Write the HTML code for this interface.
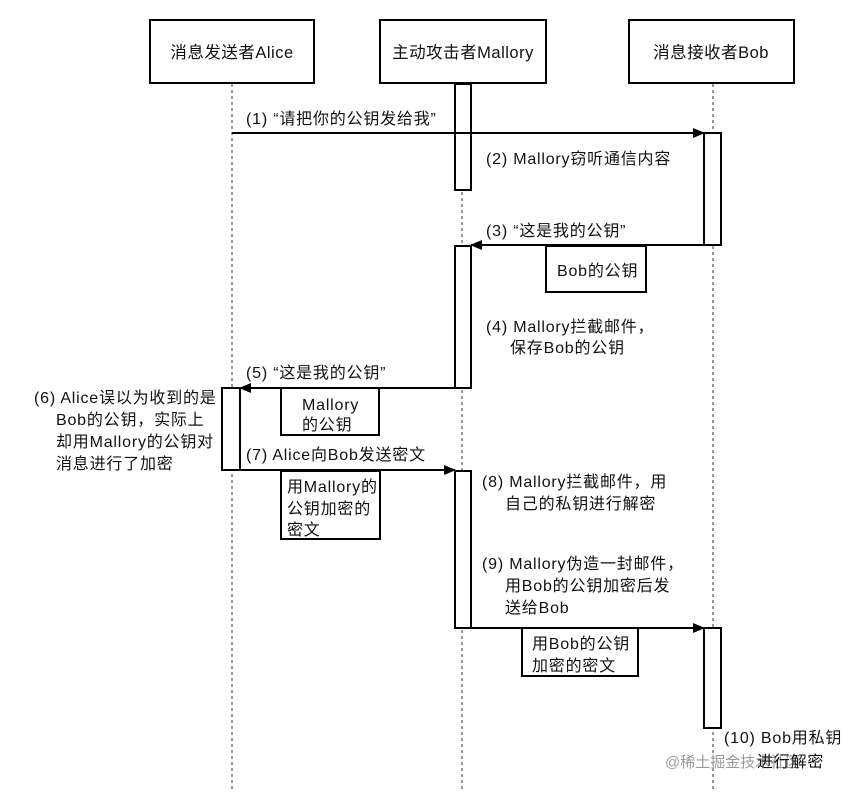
<!DOCTYPE html>
<html><head><meta charset="utf-8"><style>
html,body{margin:0;padding:0;background:#fff;}
svg text{font-family:"Liberation Sans","Noto Sans CJK SC",sans-serif;font-size:16px;letter-spacing:0.8px;fill:#111;}
svg text.h{font-size:16.5px;letter-spacing:0.5px;}
</style></head><body>
<svg width="848" height="794" viewBox="0 0 848 794" xmlns="http://www.w3.org/2000/svg">
<defs><marker id="a" markerWidth="12" markerHeight="10" refX="11" refY="5" orient="auto" markerUnits="userSpaceOnUse"><path d="M0,0 L12,5 L0,10 z" fill="#000"/></marker></defs>
<g stroke="#333" stroke-width="1" stroke-dasharray="3,3">
<line x1="232" y1="84" x2="232" y2="790"/>
<line x1="462" y1="84" x2="462" y2="790"/>
<line x1="713" y1="84" x2="713" y2="790"/>
</g>
<g fill="#fff" stroke="#000" stroke-width="2">
<rect x="150" y="20" width="164" height="63"/>
<rect x="380" y="20" width="166" height="63"/>
<rect x="629" y="20" width="165" height="63"/>
<rect x="455" y="84" width="16" height="106"/>
<rect x="704" y="133" width="17" height="112"/>
<rect x="455" y="246" width="16" height="142"/>
<rect x="222" y="388" width="18" height="82"/>
<rect x="455" y="471" width="16" height="157"/>
<rect x="704" y="628" width="17" height="100"/>
<rect x="546" y="246" width="100" height="46"/>
<rect x="281" y="388" width="98" height="47"/>
<rect x="281" y="471" width="99" height="68"/>
<rect x="522" y="628" width="116" height="48"/>
</g>
<g stroke="#000" stroke-width="2" marker-end="url(#a)">
<line x1="232" y1="133" x2="704" y2="133"/>
<line x1="704" y1="245" x2="471" y2="245"/>
<line x1="455" y1="388" x2="240" y2="388"/>
<line x1="240" y1="470" x2="455" y2="470"/>
<line x1="471" y1="628" x2="704" y2="628"/>
</g>
<text class="h" x="232" y="58" text-anchor="middle">消息发送者Alice</text>
<text class="h" x="463" y="58" text-anchor="middle">主动攻击者Mallory</text>
<text class="h" x="711" y="58" text-anchor="middle">消息接收者Bob</text>
<text x="246" y="124">(1) “请把你的公钥发给我”</text>
<text x="486" y="164">(2) Mallory窃听通信内容</text>
<text x="486" y="236">(3) “这是我的公钥”</text>
<text x="557" y="276">Bob的公钥</text>
<text x="486" y="332">(4) Mallory拦截邮件，</text>
<text x="510" y="353">保存Bob的公钥</text>
<text x="246" y="378">(5) “这是我的公钥”</text>
<text x="302" y="410">Mallory</text>
<text x="302" y="430">的公钥</text>
<text x="34" y="403">(6) Alice误以为收到的是</text>
<text x="56" y="425">Bob的公钥，实际上</text>
<text x="56" y="447">却用Mallory的公钥对</text>
<text x="56" y="469">消息进行了加密</text>
<text x="246" y="460">(7) Alice向Bob发送密文</text>
<text x="287" y="492">用Mallory的</text>
<text x="287" y="514">公钥加密的</text>
<text x="287" y="535">密文</text>
<text x="482" y="487">(8) Mallory拦截邮件，用</text>
<text x="505" y="509">自己的私钥进行解密</text>
<text x="482" y="569">(9) Mallory伪造一封邮件，</text>
<text x="505" y="591">用Bob的公钥加密后发</text>
<text x="505" y="613">送给Bob</text>
<text x="532" y="649">用Bob的公钥</text>
<text x="532" y="671">加密的密文</text>
<text x="724" y="743">(10) Bob用私钥</text>
<text x="665" y="767" style="fill:#999;font-size:15px;letter-spacing:0">@稀土掘金技术社区</text>
<text x="757" y="767">进行解密</text>
</svg>
</body></html>
